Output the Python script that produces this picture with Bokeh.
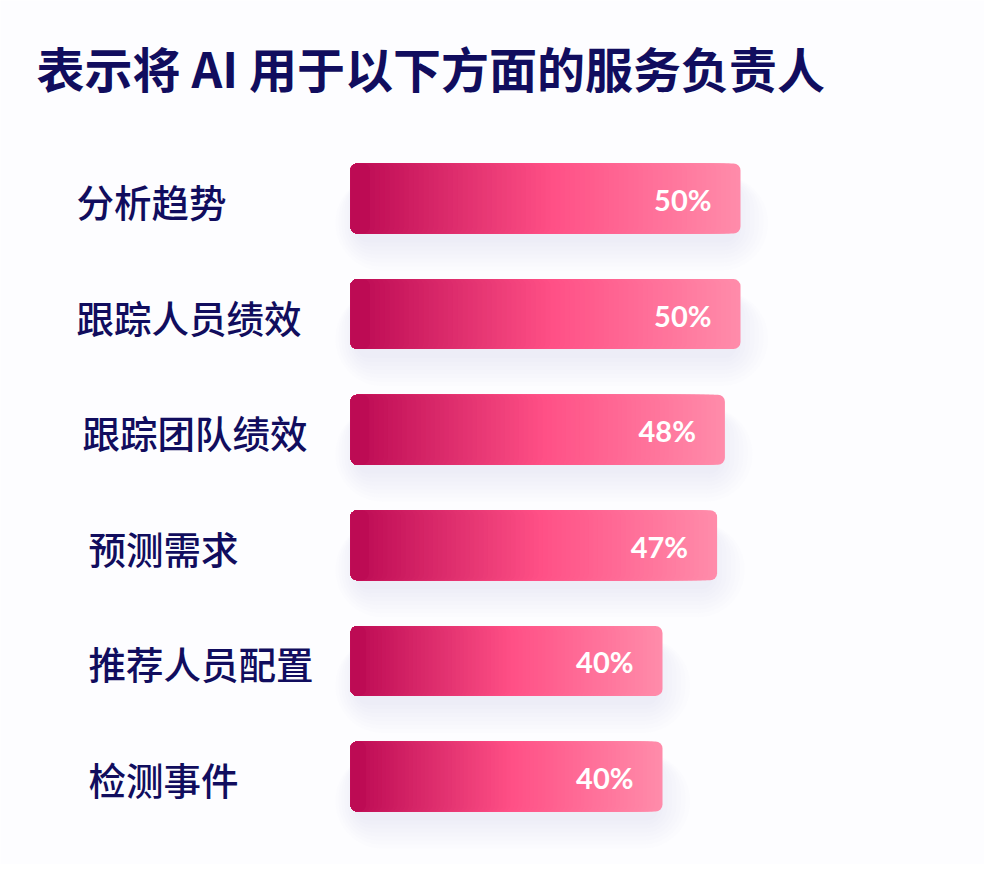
import numpy as np
from bokeh.plotting import figure
from bokeh.models import Range1d
from bokeh.core.properties import value
from bokeh.embed import file_html
from bokeh.resources import INLINE

# ---- data ----
title_text = "表示将 AI 用于以下方面的服务负责人"
categories = ["分析趋势", "跟踪人员绩效", "跟踪团队绩效", "预测需求", "推荐人员配置", "检测事件"]
values = [50, 50, 48, 47, 40, 40]
value_labels = ["50%", "50%", "48%", "47%", "40%", "40%"]

# ---- layout ----
W, H = 984, 864
PX_PER_PCT = 7.8
BAR_LEFT_PX = 350
ROW_PX = 115.6
FIRST_CENTER_PX = 198
x0 = -BAR_LEFT_PX / PX_PER_PCT
x1 = x0 + W / PX_PER_PCT
y_top = -FIRST_CENTER_PX / ROW_PX
y_bottom = (H - FIRST_CENTER_PX) / ROW_PX
bar_h = 70 / ROW_PX
label_px = [76, 76, 82, 88, 88, 88]

NAVY = "#110d5e"
CJK_MED = "'Noto Sans CJK SC Medium', 'Noto Sans CJK SC', sans-serif"
CJK = "Noto Sans CJK SC"

p = figure(width=W, height=H, x_range=Range1d(x0, x1), y_range=Range1d(y_bottom, y_top),
           output_backend="svg", toolbar_location=None, min_border=0,
           background_fill_color="#fdfdff", border_fill_color="#fdfdff")
p.axis.visible = False
p.grid.visible = False
p.outline_line_color = None

idx = np.arange(len(categories), dtype=float)
vals = np.array(values, dtype=float)

# soft shadow (mostly below the bars)
for j in range(8):
    grow = j * 5
    p.hbar(y=idx + (14 + j * 1.5) / ROW_PX, left=(6 - grow * 0.6) / PX_PER_PCT,
           right=vals + (grow * 0.9 - 4) / PX_PER_PCT,
           height=(60 + grow) / ROW_PX, fill_color="#9aa4d8", fill_alpha=0.022,
           line_color=None, border_radius=12 + grow)

# gradient bars
stops = [(0.0, (186, 8, 82)), (0.52, (255, 80, 134)), (1.0, (255, 140, 170))]


def grad(t):
    t = min(max(t, 0.0), 1.0)
    for (a, ca), (b, cb) in zip(stops[:-1], stops[1:]):
        if a <= t <= b:
            f = (t - a) / (b - a)
            c = [int(round(ca[i] + (cb[i] - ca[i]) * f)) for i in range(3)]
            return "#%02x%02x%02x" % tuple(c)
    return "#%02x%02x%02x" % stops[-1][1]


N = 80
KMIN = 4
for k in range(N, KMIN - 1, -1):
    frac = k / N
    col = grad((k - 0.5) / N) if k > KMIN else grad(KMIN / 2 / N)
    p.hbar(y=idx, left=0, right=vals * frac, height=bar_h,
           fill_color=col, line_color=None, border_radius=7)

# category labels
lab_x = [x0 + px / PX_PER_PCT for px in label_px]
p.text(x=lab_x, y=idx + 2 / ROW_PX, text=categories, text_font=value(CJK_MED),
       text_font_size=value("37.5px"), text_color=NAVY, text_baseline="middle",
       text_align="left")

# value labels
p.text(x=vals - 29 / PX_PER_PCT, y=idx + 1 / ROW_PX, text=value_labels, text_font=value("Lato"),
       text_font_style="bold", text_font_size=value("29px"), text_color="white",
       text_baseline="middle", text_align="right")

# title
p.text(x=[x0 + 36 / PX_PER_PCT], y=[(66 - FIRST_CENTER_PX) / ROW_PX], text=[title_text],
       text_font=value(CJK), text_font_style="bold", text_font_size=value("48px"),
       text_color=NAVY, text_baseline="middle", text_align="left")

open("out.html", "w").write(file_html(p, INLINE))
